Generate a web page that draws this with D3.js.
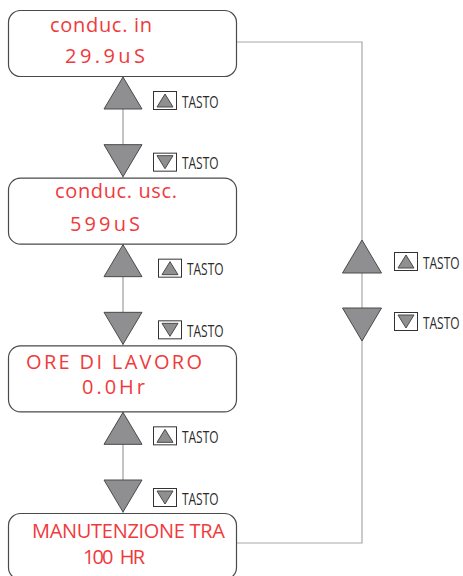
<!DOCTYPE html>
<html>
<head>
<meta charset="utf-8">
<script src="https://cdn.jsdelivr.net/npm/d3@7"></script>
<style>
  body { margin: 0; background: #fff; }
  svg { display: block; }
</style>
</head>
<body>
<div id="chart"></div>
<script>
// menu screens (display lines)
var titles = ["conduc. in", "conduc. usc.", "ORE DI LAVORO", "MANUTENZIONE TRA"];
var values = ["29.9uS", "599uS", "0.0Hr", "100 HR"];
var keyLabel = "TASTO";
var keyDirs = ["up", "down"];

var width = 463, height = 576;
var red = "#f03a3c";
var triFill = "#8f8f91";
var triStroke = "#4a4a4a";

// layout
var boxX = 8, boxW = 228, boxH = 66;
var titleX = [50, 55, 26, 32], titleW = [102, 122, 176, 193], titleDy = [22, 20, 24, 25];
var valueX = [65, 70, 82, 83], valueW = [80, 70, 63, 62], valueDy = [53, 53, 49, 51];
var keyX = [153, 158, 153];

var svg = d3.select("#chart").append("svg")
  .attr("width", width)
  .attr("height", height);

var yScale = d3.scaleLinear()
  .domain([0, titles.length - 1])
  .range([10, 513]);

var cx = boxX + boxW / 2 + 1; // left column of arrows
var rx = 362; // right column

var triW = 38, triH = 32;

function triangle(g, x, yTop, dir, w, h) {
  var pts = dir == "up"
    ? [[x, yTop], [x + w / 2, yTop + h], [x - w / 2, yTop + h]]
    : [[x - w / 2, yTop], [x + w / 2, yTop], [x, yTop + h]];
  g.append("path")
    .attr("d", d3.line()(pts) + "Z")
    .attr("fill", triFill)
    .attr("stroke", triStroke)
    .attr("stroke-width", 1)
    .attr("stroke-linejoin", "miter");
}

function keyTag(g, x, y, dir) {
  g.append("rect")
    .attr("x", x + 0.5)
    .attr("y", y + 0.5)
    .attr("width", 23)
    .attr("height", 18)
    .attr("fill", "#fff")
    .attr("stroke", "#333")
    .attr("stroke-width", 1);
  triangle(g, x + 12, y + 3, dir, 16, 13);
  // condensed label: squeeze horizontally
  g.append("text")
    .attr("transform", "translate(" + (x + 29) + "," + (y + 16.5) + ") scale(0.77,1)")
    .style("font-family", "'Open Sans', sans-serif")
    .style("font-size", "15.5px")
    .style("fill", "#2a2a2a")
    .text(keyLabel);
}

var lines = svg.append("g");

// right loop line
var r0 = yScale(0), r3 = yScale(titles.length - 1);
lines.append("path")
  .attr("d", d3.line()([[boxX + boxW, r0 + 32], [rx, r0 + 32], [rx, r3 + 30], [boxX + boxW, r3 + 30]]))
  .attr("fill", "none")
  .attr("stroke", "#a8a8a8")
  .attr("stroke-width", 1.2);

// left connectors
for (var i = 0; i < titles.length - 1; i++) {
  lines.append("line")
    .attr("x1", cx).attr("x2", cx)
    .attr("y1", yScale(i) + boxH)
    .attr("y2", yScale(i + 1))
    .attr("stroke", "#b0b0b0")
    .attr("stroke-width", 1.5);
}

// screens
var boxes = svg.append("g");
for (var i = 0; i < titles.length; i++) {
  var y = yScale(i);
  boxes.append("rect")
    .attr("x", boxX + 0.5)
    .attr("y", y + 0.5)
    .attr("width", boxW)
    .attr("height", boxH)
    .attr("rx", 12)
    .attr("fill", "#fff")
    .attr("stroke", "#4a4a4a")
    .attr("stroke-width", 1.2);

  boxes.append("text")
    .attr("x", titleX[i])
    .attr("y", y + titleDy[i])
    .attr("textLength", titleW[i])
    .attr("lengthAdjust", "spacing")
    .style("font-family", "'Open Sans', sans-serif")
    .style("font-size", "20px")
    .style("fill", red)
    .text(titles[i]);

  boxes.append("text")
    .attr("x", valueX[i])
    .attr("y", y + valueDy[i])
    .attr("textLength", valueW[i])
    .attr("lengthAdjust", "spacing")
    .style("font-family", "'Open Sans', sans-serif")
    .style("font-size", "20px")
    .style("word-spacing", "5px")
    .style("fill", red)
    .text(values[i]);
}

// key arrows between screens
var keys = svg.append("g");
for (var i = 0; i < titles.length - 1; i++) {
  var yb = yScale(i) + boxH + 1;
  var yn = yScale(i + 1) - 1;
  keyDirs.forEach(function(d) {
    if (d == "up") {
      triangle(keys, cx, yb, "up", triW, triH);
      keyTag(keys, keyX[i], yb + triH - 18, "up");
    } else {
      triangle(keys, cx, yn - triH, "down", triW, triH);
      keyTag(keys, keyX[i], yn - triH + 8, "down");
    }
  });
}

// right column arrows
triangle(keys, rx, 240, "up", 39, 33);
keyTag(keys, 394, 252, "up");
triangle(keys, rx, 308, "down", 39, 33);
keyTag(keys, 394, 312, "down");
</script>
</body>
</html>
